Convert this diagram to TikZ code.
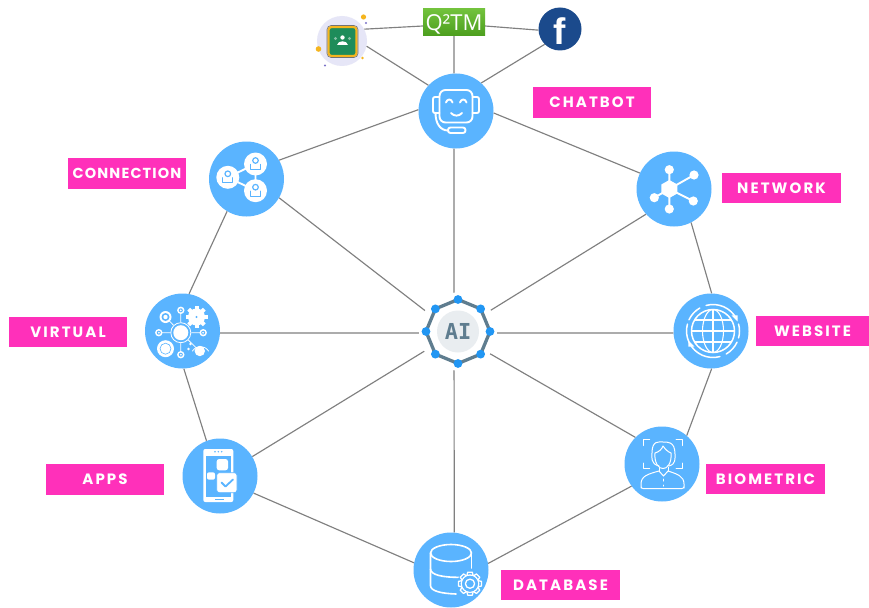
\documentclass[tikz,border=0pt]{standalone}
\usepackage{fontspec}
\usetikzlibrary{calc,shapes.geometric}
\newfontfamily\labfont[LetterSpace=14]{Poppins}
\newfontfamily\labtight[LetterSpace=8]{Poppins}
\newfontfamily\logofont{Open Sans}
\newfontfamily\fbfont{Liberation Sans}
\newfontfamily\aifont{DejaVu Sans Mono}
\definecolor{bub}{HTML}{5AB4FF}
\definecolor{pinkl}{HTML}{FF30BA}
\definecolor{linec}{HTML}{808080}
\definecolor{slate}{HTML}{5F7D8F}
\definecolor{dotb}{HTML}{2196F3}
\definecolor{pale}{HTML}{E9EDF0}
\definecolor{fbblue}{HTML}{1B4A8C}
\definecolor{lav}{HTML}{E6E6F7}
\definecolor{gold}{HTML}{F5B51E}
\definecolor{purp}{HTML}{7A72C8}
\definecolor{gcr}{HTML}{1E8C5A}
\definecolor{qtop}{HTML}{72C23C}
\definecolor{qbot}{HTML}{4C9E1E}
\tikzset{
  bubble/.style={circle,fill=bub,minimum size=75pt,inner sep=0pt},
  tag/.style={fill=pinkl,text=white,minimum width=118.5pt,minimum height=30.5pt,inner sep=0pt,font=\labfont\bfseries\fontsize{15}{15}\selectfont},
  conn/.style={draw=linec,line width=1.15pt},
  ic/.style={draw=white,line width=1.9pt,line cap=round,line join=round},
  icthin/.style={draw=white,line width=.8pt,line cap=round,line join=round},
  blueline/.style={draw=bub,line width=1.2pt,line cap=round,line join=round},
}
\begin{document}
\begin{tikzpicture}[x=1pt,y=-1pt]
\useasboundingbox (0,0) rectangle (869,607);
\fill[white] (0,0) rectangle (869,607);

% ---- nodes
\coordinate (hubc) at (454,333);
\node[bubble] (chatbot) at (456,111) {};
\node[bubble] (connection) at (246.5,179) {};
\node[bubble] (virtual) at (182.5,331) {};
\node[bubble] (network) at (674,189) {};
\node[bubble] (website) at (711,331) {};
\node[bubble] (biometric) at (662,464) {};
\node[bubble] (database) at (451,570) {};
\node[bubble] (apps) at (220,476) {};
\node[rectangle,minimum width=62pt,minimum height=27pt,inner sep=0pt,
      top color=qtop,bottom color=qbot] (q2tm) at (454,22.5) {};
\node[circle,fill=fbblue,minimum size=43pt,inner sep=0pt] (facebook) at (560,29) {};
\node[circle,fill=lav,minimum size=50pt,inner sep=0pt] (classroom) at (342,41) {};

% ---- connectors
\draw[conn] (hubc) -- (chatbot.267);
\draw[conn] (hubc) -- (database.85);
\draw[conn] (hubc) -- (connection.-30);
\draw[conn] (hubc) -- (virtual.-3);
\draw[conn] (hubc) -- (network.-138);
\draw[conn] (hubc) -- (website.183);
\draw[conn] (hubc) -- (biometric.135);
\draw[conn] (hubc) -- (apps.31.5);
\draw[conn] (chatbot.-3.5) -- (network.155);
\draw[conn] (network.-63) -- (website.89);
\draw[conn] (website.-89) -- (biometric.49);
\draw[conn] (biometric.-144) -- (database.10);
\draw[conn] (database.169) -- (apps.-27);
\draw[conn] (apps.111) -- (virtual.-88);
\draw[conn] (virtual.80) -- (connection.-121);
\draw[conn] (connection.30) -- (chatbot.178);
\draw[conn] (q2tm.south) -- (chatbot.93);
\draw[conn] (classroom.-12) -- (chatbot.137);
\draw[conn] (facebook.225) -- (chatbot.48);
\draw[conn] (classroom.28) -- ($(q2tm.west)+(0,3.5)$);
\draw[conn] ($(q2tm.east)+(0,3.5)$) -- (facebook.183);

% ---- hub
\node[circle,fill=white,minimum size=78pt,inner sep=0pt] (hub) at (458,331.5) {};
\begin{scope}[shift={(hub.center)}]
  \draw[slate,line width=3.3pt,line join=round] (0:32)--(45:32)--(90:32)--(135:32)--(180:32)--(225:32)--(270:32)--(315:32)--cycle;
  \fill[pale] (0,0) circle[radius=21];
  \foreach \a in {0,45,...,315} \fill[dotb] (\a:32) circle[radius=4.4];
\end{scope}
\node[text=slate,inner sep=0pt,font=\aifont\bfseries\fontsize{22}{22}\selectfont] (aitext) at (hub.center) {AI};

% ---- tags
\node[tag] (tchatbot) at (592,102.5) {CHATBOT};
\node[tag,font=\labtight\bfseries\fontsize{14.5}{14.5}\selectfont] (tconnection) at (127,173.5) {CONNECTION};
\node[tag] (tnetwork) at (781.5,188) {NETWORK};
\node[tag] (tvirtual) at (68,332) {VIRTUAL};
\node[tag,minimum width=113pt] (twebsite) at (812.5,331) {WEBSITE};
\node[tag] (tapps) at (105,479.5) {APPS};
\node[tag] (tbiometric) at (765.5,479) {BIOMETRIC};
\node[tag] (tdatabase) at (560.5,585) {DATABASE};

% ---- logos
\node[text=white,inner sep=0pt,font=\logofont\fontsize{22}{22}\selectfont] (q2text) at ($(q2tm.center)+(0,1.5)$) {Q²TM};
\node[text=white,inner sep=0pt,font=\fbfont\bfseries\fontsize{37}{37}\selectfont] (ftext) at ($(facebook.center)+(0,2)$) {f};
\begin{scope}[shift={(classroom.center)}]
  \draw[fill=gcr,draw=gold,line width=2.2pt,rounded corners=3pt] (-13.5,-14) rectangle (14.5,15);
  \draw[draw=black!55,line width=.6pt,rounded corners=4pt] (-15,-15.5) rectangle (16,16.5);
  \fill[white] (0.5,-3.5) circle[radius=2.2];
  \fill[white] (-5,4) .. controls (-4,-1) and (5,-1) .. (6,4) -- cycle;
  \fill[white,opacity=.45] (-6.5,-2.5) circle[radius=1.6] (7.5,-2.5) circle[radius=1.6];
  \fill[gold] (21.5,-24) circle[radius=2.6] (-23.5,8) circle[radius=2.8] (20.5,17) circle[radius=1.3];
  \fill[purp] (24,-18) circle[radius=1.2] (-17,24.5) circle[radius=1.2];
\end{scope}

% ---- chatbot icon
\begin{scope}[shift={(chatbot.center)}]
  \draw[ic,rounded corners=6pt] (-16.5,-21) rectangle (16.5,11.5);
  \draw[ic,rounded corners=2pt] (-16.5,-14) -- (-23,-14) -- (-23,2) -- (-16.5,2);
  \draw[ic,rounded corners=2pt] (16.5,-14) -- (23,-14) -- (23,2) -- (16.5,2);
  \draw[ic] (-10,-8.5) .. controls (-9,-12.5) and (-4.5,-12.5) .. (-3.5,-8.5);
  \draw[ic] (4,-8.5) .. controls (5,-12.5) and (9.5,-12.5) .. (10.5,-8.5);
  \draw[ic] (-5,2) .. controls (-2,5.5) and (3,5.5) .. (6,2);
  \draw[ic] (-20.5,2) .. controls (-20.5,12) and (-16,19.5) .. (-8,19.5);
  \draw[ic,rounded corners=2.5pt] (-8,16.5) rectangle (9.5,22);
\end{scope}

% ---- connection icon
\begin{scope}[shift={(connection.center)}]
  \draw[ic] (-18.7,-1.7)--(9,-15)--(9,11.7)--cycle;
  \foreach \px/\py in {-18.7/-1.7,9/-15,9/11.7}{
    \begin{scope}[shift={(\px,\py)}]
      \fill[white] (0,0) circle[radius=11.5];
      \draw[blueline] (0,-3.5) circle[radius=2.8];
      \draw[blueline] (-5,0.5) -- (-5,5.5) -- (5,5.5) -- (5,0.5);
    \end{scope}
  }
\end{scope}

% ---- virtual icon
\begin{scope}[shift={(virtual.center)}]
  \draw[icthin] (-1.7,-20.7)--(-1.7,23.7) (-23.7,1.7)--(20.7,1.7) (-17,-14)--(-1.7,1.7) (-1.7,1.7)--(17,20);
  \fill[bub] (-1.7,1.7) circle[radius=10.5];
  \draw[icthin] (-1.7,1.7) circle[radius=10];
  \fill[white] (-1.7,1.7) circle[radius=7.5];
  \foreach \px/\py in {-1.7/-20.7,-23.7/1.7,20.7/1.7,-1.7/23.7}{
    \fill[white] (\px,\py) circle[radius=3.7];
    \fill[bub] (\px,\py) circle[radius=2];
    \fill[white] (\px,\py) circle[radius=1];
  }
  \fill[white] (-17,-14) circle[radius=6];
  \fill[bub] (-17,-14) circle[radius=4];
  \fill[white] (-17,-14) circle[radius=2.2];
  \fill[white] (-17,17.7) circle[radius=8.5];
  \draw[bub,line width=.6pt] (-17,17.7) circle[radius=5.5];
  \begin{scope}[shift={(14,-14)}]
    \fill[white] (0,0) circle[radius=8.5];
    \foreach \a in {0,45,...,315} \fill[white,rotate=\a] (7,-2) rectangle (11,2);
    \fill[bub] (0,0) circle[radius=1.2];
  \end{scope}
  \fill[white] (17.3,20) circle[radius=5.2];
  \draw[icthin] (10,20) .. controls (14,14) and (22,14) .. (26,20);
  \fill[white] (8,13) circle[radius=1.4] (6,18) circle[radius=1.4];
\end{scope}

% ---- network icon
\begin{scope}[shift={(network.center)}]
  \draw[ic] (-4.7,0)--(-4.7,-19.3) (-4.7,0)--(20,-14) (-4.7,0)--(19.3,12) (-4.7,0)--(-4.7,20) (-4.7,0)--(-19.7,8.7);
  \fill[white] (-4.7,-9) -- (3.3,-4.5) -- (3.3,4.5) -- (-4.7,9) -- (-12.7,4.5) -- (-12.7,-4.5) -- cycle;
  \fill[white] (-4.7,-19.3) circle[radius=4.6] (20,-14) circle[radius=4.6] (19.3,12) circle[radius=4.6] (-4.7,20) circle[radius=4.6] (-19.7,8.7) circle[radius=4.6];
\end{scope}

% ---- website icon
\begin{scope}[shift={(website.center)}]
  \begin{scope}[shift={(2,0)}]
    \draw[ic,line width=1.5pt] (0,0) circle[radius=21.5];
    \draw[icthin,line width=1.1pt] (0,0) ellipse[x radius=10.5,y radius=21.5];
    \draw[icthin,line width=1.1pt] (0,-21.5)--(0,21.5) (-21.5,0)--(21.5,0);
    \draw[icthin,line width=1.1pt] (-18,-11)--(18,-11) (-18,11)--(18,11);
    \draw[ic,line width=1.5pt] (-27:26.5) arc[start angle=-27,end angle=-105,radius=26.5];
    \draw[ic,line width=1.5pt] (-120:26.5) arc[start angle=-120,end angle=-155,radius=26.5];
    \draw[ic,line width=1.5pt] (-165:26.5) arc[start angle=-165,end angle=-205,radius=26.5];
    \draw[ic,line width=1.5pt] (153:26.5) arc[start angle=153,end angle=75,radius=26.5];
    \draw[ic,line width=1.5pt] (60:26.5) arc[start angle=60,end angle=25,radius=26.5];
    \draw[ic,line width=1.5pt] (15:26.5) arc[start angle=15,end angle=-15,radius=26.5];
    \fill[white] (-27:26.5) ++(-5,-3.5) -- ++(6,0) -- ++(0,6) -- cycle;
    \fill[white] (153:26.5) ++(5,3.5) -- ++(-6,0) -- ++(0,-6) -- cycle;
  \end{scope}
\end{scope}

% ---- biometric icon
\begin{scope}[shift={(biometric.center)},icthin/.append style={line width=1pt}]
  \draw[icthin] (-12.5,-24.7)--(-18.3,-24.7)--(-18.3,-18.5);
  \draw[icthin] (14,-24.7)--(20,-24.7)--(20,-18.5);
  \draw[icthin] (-18.3,-1)--(-18.3,4.7)--(-12.5,4.7);
  \draw[icthin] (20,-1)--(20,4.7)--(14,4.7);
  \draw[icthin] (-3,2) .. controls (-12,0) and (-10,-8) .. (-10,-11) .. controls (-10,-24) and (-3,-22) .. (1,-22) .. controls (5,-22) and (13,-23) .. (13,-10) .. controls (13,-5) and (14,0) .. (7,2);
  \draw[icthin] (-7,-11) .. controls (-3,-12) and (0,-15) .. (1,-18) .. controls (3,-15) and (6,-12) .. (9,-11) .. controls (10,-1) and (5,5) .. (1,4.5) .. controls (-3,5) and (-8,-1) .. (-7,-11);
  \draw[icthin] (-3,3)--(-3,7) (6,3)--(6,7);
  \draw[icthin,rounded corners=2pt] (-3,7) .. controls (-14,10) and (-21,12) .. (-21,22) -- (-21,24.5) -- (22,24.5) -- (22,22) .. controls (22,12) and (15,10) .. (6,7);
  \draw[icthin] (-3,7) -- (1.5,12) -- (6,7);
  \draw[icthin] (1.5,15)--(1.5,17) (1.5,21)--(1.5,22);
\end{scope}

% ---- database icon
\begin{scope}[shift={(database.center)}]
  \draw[ic,line width=1.6pt] (0,-17) ellipse[x radius=20.5,y radius=8.5];
  \draw[ic,line width=1.6pt] (-20.5,-17)--(-20.5,15.5) .. controls (-20.5,21) and (-10,23.5) .. (5,24);
  \draw[ic,line width=1.6pt] (20.5,-17)--(20.5,-2);
  \draw[ic,line width=1.6pt] (-20.5,-1) .. controls (-20.5,5) and (-8,7.5) .. (9,7.3);
  \begin{scope}[shift={(19,13.7)}]
    \fill[bub] (0,0) circle[radius=13];
    \foreach \a in {0,45,...,315} \draw[icthin,line width=1.3pt,rotate=\a] (8.5,-3) -- (11.5,-2.3) -- (11.5,2.3) -- (8.5,3);
    \draw[icthin,line width=1.3pt] (0,0) circle[radius=8.7];
    \fill[bub] (0,0) circle[radius=7.8];
    \draw[icthin,line width=1.3pt] (0,0) circle[radius=4.6];
  \end{scope}
\end{scope}

% ---- apps icon
\begin{scope}[shift={(apps.center)}]
  \fill[white,rounded corners=2pt] (-16.7,-27) rectangle (13.3,26);
  \fill[bub] (-14,-20) rectangle (11,21);
  \fill[bub] (-5,-24.3) circle[radius=.8] (-1.7,-24.3) circle[radius=.8] (1.7,-24.3) circle[radius=.8];
  \fill[bub] (-5,22.7) rectangle (3.5,24);
  \fill[white,rounded corners=2.5pt] (-3.3,-17) rectangle (8,-5.7);
  \fill[white,rounded corners=2pt] (-13,-3.7) rectangle (-5,3.7);
  \draw[fill=white,draw=bub,line width=.8pt,rounded corners=2.5pt] (-3.3,-3.3) rectangle (17,16.7);
  \draw[blueline,line width=1.8pt] (1.5,6.5) -- (5.5,10.5) -- (13,3.5);
\end{scope}
\end{tikzpicture}
\end{document}
